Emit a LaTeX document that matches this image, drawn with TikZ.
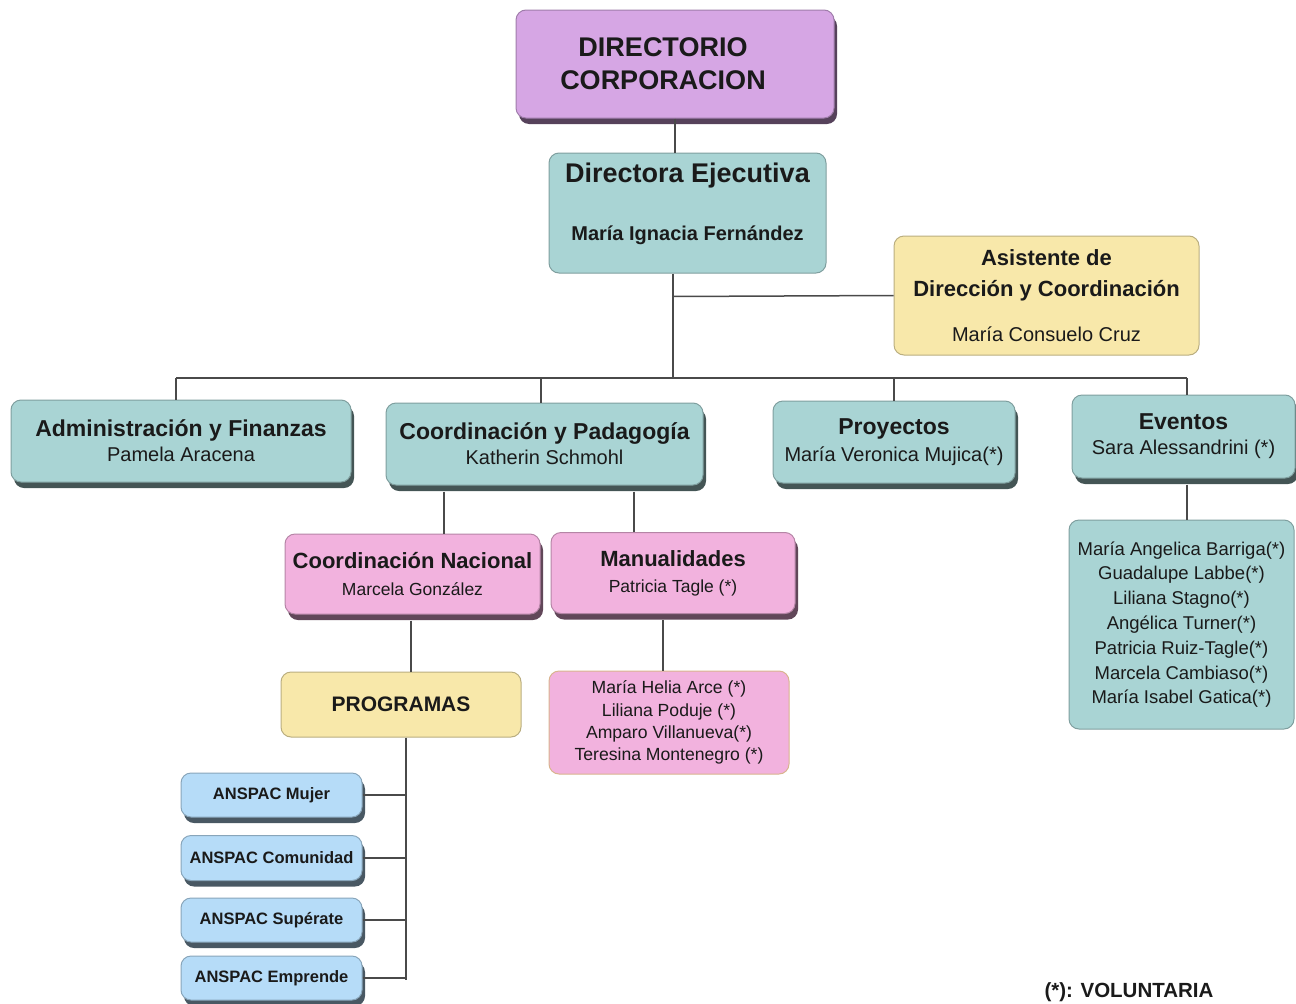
\documentclass[tikz,border=0pt]{standalone}
\usepackage{fontspec}
\setmainfont{Liberation Sans}
\usetikzlibrary{positioning,shadows}

\definecolor{lila}{HTML}{D6A6E4}
\definecolor{verdeagua}{HTML}{A9D4D4}
\definecolor{amarillo}{HTML}{F8E8AA}
\definecolor{rosado}{HTML}{F2B2DE}
\definecolor{celeste}{HTML}{B6DCF8}
\definecolor{tostado}{HTML}{D9B48E}
\definecolor{linea}{HTML}{4A4A4A}
\definecolor{texto}{HTML}{1A1A1A}

\tikzset{
  caja/.style={draw=#1!75!black, fill=#1, rounded corners=10pt, align=center,
    line width=1pt, inner sep=2pt, text=texto},
  sombra/.style={drop shadow={shadow xshift=3pt, shadow yshift=-6pt,
    fill=#1!40!black, opacity=1}},
  conector/.style={draw=linea, line width=1.5pt},
}
\newcommand{\titulo}[1]{{\fontsize{23}{25}\selectfont\bfseries #1}}
\newcommand{\subtitulo}[1]{{\fontsize{22}{25}\selectfont\bfseries #1}}

\begin{document}
\begin{tikzpicture}[x=1pt,y=-1pt]
  \useasboundingbox (0,0) rectangle (1296,1004);

  % direccion
  \node[caja=lila, sombra=lila, minimum width=318pt, minimum height=108pt,
    font=\fontsize{27}{33}\selectfont\bfseries] (dir) at (675,64)
    {DIRECTORIO\hspace*{24pt}\\CORPORACION\hspace*{24pt}};
  \node[caja=verdeagua, minimum width=277pt, minimum height=120pt, text depth=23pt,
    font=\fontsize{20}{24}\selectfont] (ejec) at (687.5,213)
    {{\fontsize{27}{27}\selectfont\bfseries Directora Ejecutiva}\\[34pt]
     \textbf{María Ignacia Fernández}};
  \node[caja=amarillo, minimum width=305pt, minimum height=119pt,
    font=\fontsize{22}{31}\selectfont] (asist) at (1046.5,295.5)
    {\textbf{Asistente de}\\\textbf{Dirección y Coordinación}\\[14pt]
     {\fontsize{20}{24}\selectfont María Consuelo Cruz}};

  % areas
  \node[caja=verdeagua, sombra=verdeagua, minimum width=340pt, minimum height=82pt,
    font=\fontsize{20}{25}\selectfont] (admin) at (181,441)
    {\titulo{Administración y Finanzas}\\Pamela Aracena};
  \node[caja=verdeagua, sombra=verdeagua, minimum width=317pt, minimum height=82pt,
    font=\fontsize{20}{25}\selectfont] (coord) at (544.5,444)
    {\titulo{Coordinación y Padagogía}\\Katherin Schmohl};
  \node[caja=verdeagua, sombra=verdeagua, minimum width=242pt, minimum height=82pt,
    font=\fontsize{20}{27}\selectfont] (proy) at (894,442)
    {\titulo{Proyectos}\\María Veronica Mujica(*)};
  \node[caja=verdeagua, sombra=verdeagua, minimum width=223pt, minimum height=83pt,
    font=\fontsize{20}{25}\selectfont] (evt) at (1183.5,436.5)
    {\titulo{Eventos}\\Sara Alessandrini (*)};
  \node[caja=verdeagua, minimum width=225pt, minimum height=209pt,
    font=\fontsize{18.5}{24.8}\selectfont] (evtlista) at (1181.5,624.5)
    {María Angelica Barriga(*)\\Guadalupe Labbe(*)\\Liliana Stagno(*)\\
     Angélica Turner(*)\\Patricia Ruiz-Tagle(*)\\Marcela Cambiaso(*)\\
     María Isabel Gatica(*)};

  % coordinacion
  \node[caja=rosado, sombra=rosado, minimum width=255pt, minimum height=80pt,
    font=\fontsize{17.5}{27}\selectfont] (nac) at (412.5,574)
    {\subtitulo{Coordinación Nacional}\\Marcela González};
  \node[caja=rosado, sombra=rosado, minimum width=244pt, minimum height=81pt,
    font=\fontsize{17.5}{26}\selectfont] (manu) at (673,573)
    {\subtitulo{Manualidades}\\Patricia Tagle (*)};
  \node[caja=amarillo, minimum width=240pt, minimum height=65pt,
    font=\fontsize{21}{25}\selectfont\bfseries] (prog) at (401,704.5) {PROGRAMAS};
  \node[caja=rosado, draw=tostado, minimum width=240pt, minimum height=103pt,
    font=\fontsize{17.6}{22.3}\selectfont] (manulista) at (669,722.5)
    {María Helia Arce (*)\\Liliana Poduje (*)\\Amparo Villanueva(*)\\
     Teresina Montenegro (*)};

  % programas
  \node[caja=celeste, sombra=celeste, minimum width=181pt, minimum height=44pt,
    font=\fontsize{16.5}{20}\selectfont\bfseries] (mujer) at (271.5,795) {ANSPAC Mujer};
  \node[caja=celeste, sombra=celeste, minimum width=181pt, minimum height=45pt,
    font=\fontsize{16.5}{20}\selectfont\bfseries] (comun) at (271.5,858) {ANSPAC Comunidad};
  \node[caja=celeste, sombra=celeste, minimum width=181pt, minimum height=44pt,
    font=\fontsize{16.5}{20}\selectfont\bfseries] (supera) at (271.5,920) {ANSPAC Supérate};
  \node[caja=celeste, sombra=celeste, minimum width=181pt, minimum height=44pt,
    font=\fontsize{16.5}{20}\selectfont\bfseries] (empr) at (271.5,978) {ANSPAC Emprende};

  \node[text=texto, font=\fontsize{20.5}{22}\selectfont\bfseries] (nota) at (1129,992)
    {(*): VOLUNTARIA};

  % puntos de union
  \coordinate (bus) at (673,378);
  \coordinate (bA) at (176,378);
  \coordinate (bC) at (541,378);
  \coordinate (bP) at (894,378);
  \coordinate (bE) at (1187,378);
  \coordinate (tronco) at (406,980);

  \draw[conector] (dir.south -| 675,0) -- (ejec.north -| 675,0);
  \draw[conector] (ejec.south -| bus) -- (bus);
  \draw[conector] (ejec.south -| bus) ++(0,23) -- (asist.west);
  \draw[conector] (bA) -- (bE);
  \draw[conector] (bA) -- (bA |- admin.north);
  \draw[conector] (bC) -- (bC |- coord.north);
  \draw[conector] (bP) -- (bP |- proy.north);
  \draw[conector] (bE) -- (bE |- evt.north);
  \draw[conector] (evt.south -| bE) ++(0,6) -- (bE |- evtlista.north);
  \draw[conector] ([yshift=-6pt]coord.south -| 444,0) -- (nac.north -| 444,0);
  \draw[conector] ([yshift=-6pt]coord.south -| 634,0) -- (manu.north -| 634,0);
  \draw[conector] ([yshift=-6pt]nac.south -| 411,0) -- (prog.north -| 411,0);
  \draw[conector] ([yshift=-6pt]manu.south -| 663,0) -- (manulista.north -| 663,0);
  \draw[conector] (prog.south -| tronco) -- (tronco);
  \draw[conector] (mujer.east) -- (mujer.east -| tronco);
  \draw[conector] (comun.east) -- (comun.east -| tronco);
  \draw[conector] (supera.east) -- (supera.east -| tronco);
  \draw[conector] (empr.east) -- (empr.east -| tronco);
\end{tikzpicture}
\end{document}
